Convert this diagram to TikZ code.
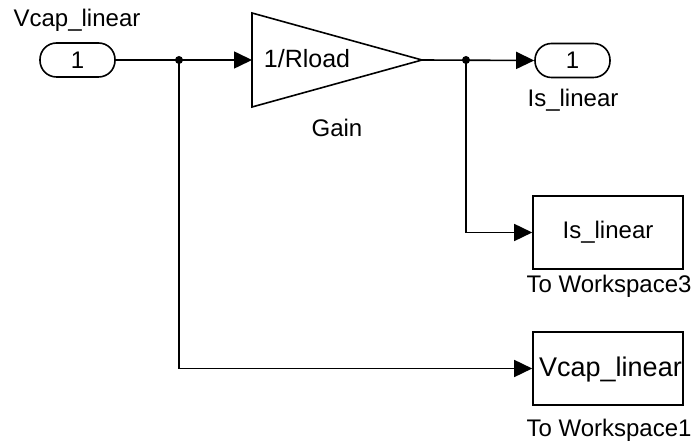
\documentclass[tikz,border=0pt]{standalone}
\usepackage{fontspec}
\setmainfont{Liberation Sans}
\usetikzlibrary{arrows.meta}
\begin{document}
\begin{tikzpicture}[x=1pt,y=-1pt,
  every node/.style={font=\fontsize{24}{28}\selectfont, inner sep=0pt},
  wire/.style={line width=1.6pt},
  arr/.style={wire, -{Triangle[length=18pt,width=17pt]}},
  port/.style={draw, line width=1.6pt, rounded corners=16.5pt, minimum width=75pt, minimum height=34pt},
  blk/.style={draw, line width=1.6pt, minimum width=150pt, minimum height=73pt},
  dot/.style={circle, fill=black, minimum size=8pt}]
\useasboundingbox (0,0) rectangle (694,443);
% inport
\node[port] (in) at (77.5,60) {1};
\node (inlab) at (77,20) {Vcap\_linear};
% gain
\coordinate (gin) at (252,60);
\coordinate (gout) at (422,60);
\draw[line width=1.6pt, line join=miter] (252,13) -- (gout) -- (252,107) -- cycle;
\node[font=\fontsize{25}{28}\selectfont] (gtxt) at (307,59) {1/Rload};
\node (glab) at (337,128) {Gain};
% outport
\node[port] (out) at (572.5,60.5) {1};
\node (outlab) at (573,100) {Is\_linear};
% workspaces
\node[blk] (ws3) at (608,232.5) {Is\_linear};
\node (ws3lab) at (609,286) {To Workspace3};
\node[blk] (ws1) at (608,368.5) {};
\node[anchor=west, font=\fontsize{27}{30}\selectfont] (ws1txt) at (539,370) {Vcap\_linear};
\node (ws1lab) at (609,430) {To Workspace1};
% junctions
\node[dot] (j1) at (179,60) {};
\node[dot] (j2) at (466,60) {};
% wires
\draw[arr] (in.east) -- (gin);
\draw[arr] (gout) -- (out.west);
\draw[arr] (j1.center) |- (ws1.west);
\draw[arr] (j2.center) |- (ws3.west);
\end{tikzpicture}
\end{document}
